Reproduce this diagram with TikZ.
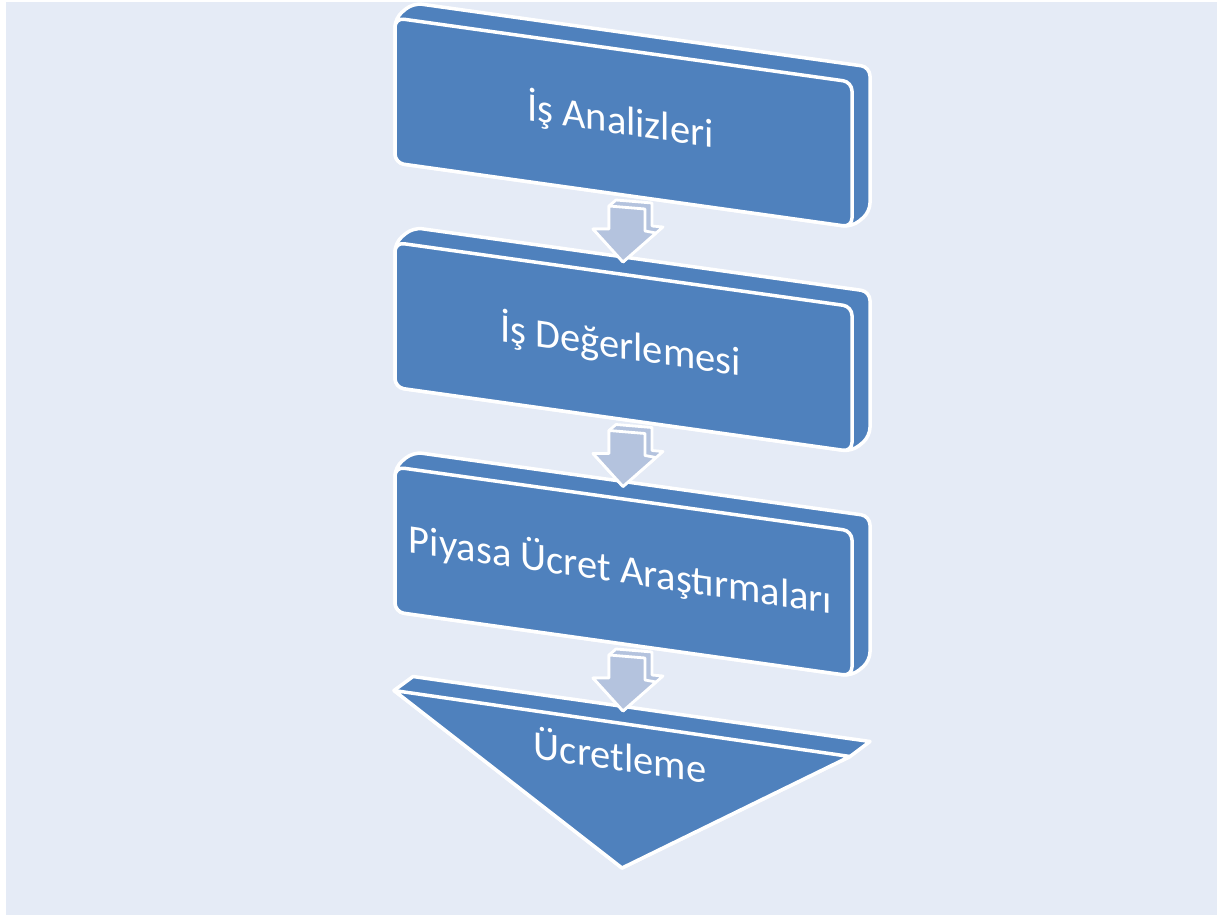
\documentclass[tikz,border=0pt]{standalone}
\usepackage{fontspec}
\setmainfont{Carlito}
\definecolor{slab}{HTML}{4F81BD}
\definecolor{chev}{HTML}{B4C3DE}
\definecolor{paper}{HTML}{E5EBF6}
\tikzset{
  slabface/.style={fill=slab, draw=white, line width=3.5pt, rounded corners=9pt, line join=round},
  sharpface/.style={fill=slab, draw=white, line width=3.5pt, line join=round},
  arrowface/.style={fill=chev, draw=white, line width=2.8pt, line join=round},
  lbl/.style={text=white, font=\fontsize{40.5}{48}\selectfont, yslant=-0.145, inner sep=0pt, anchor=base},
}
\begin{document}
\begin{tikzpicture}[x=1pt,y=-1pt]
\useasboundingbox (0,0) rectangle (1217,915);
\fill[white] (0,0) rectangle (1217,915);
\fill[paper] (6,2) rectangle (1217,915);

% three slanted slabs
\foreach \i/\t in {0/{İş Analizleri},1/{İş Değerlemesi},2/{Piyasa Ücret Araştırmaları}} {
  \pgfmathsetmacro\oy{224.5*\i}
  \coordinate (b\i-ftl) at (395,18+\oy);
  \coordinate (b\i-ftr) at (852,82+\oy);
  \coordinate (b\i-fbr) at (852,227+\oy);
  \coordinate (b\i-fbl) at (395,163+\oy);
  \coordinate (b\i-btl) at (413,3+\oy);
  \coordinate (b\i-btr) at (870,67+\oy);
  \coordinate (b\i-bbr) at (870,212+\oy);
  % top and side faces
  \path[slabface] (b\i-fbl) -- (b\i-ftl) -- (b\i-btl) -- (b\i-btr) -- (b\i-bbr) -- (b\i-fbr) -- cycle;
  % front face
  \path[slabface] (b\i-ftl) -- (b\i-ftr) -- (b\i-fbr) -- (b\i-fbl) -- cycle;
  \pgfmathsetmacro\ty{134+224.5*\i}
  \node[lbl] (lbl\i) at (620.5,\ty) {\t};
}

% funnel-shaped last step
\coordinate (t-fl) at (394,690.5);
\coordinate (t-fr) at (850,756.5);
\coordinate (t-bl) at (413,676.5);
\coordinate (t-br) at (870,741.5);
\coordinate (t-ap) at (622,868);
\path[sharpface] (t-fl) -- (t-bl) -- (t-br) -- (t-fr) -- (t-ap) -- cycle;
\path[sharpface] (t-fl) -- (t-fr) -- (t-ap) -- cycle;
\node[lbl] (lbl3) at (620,771) {Ücretleme};

% block arrows between the steps
\foreach \k in {0,1,2} {
  \pgfmathsetmacro\oy{224.5*\k}
  \begin{scope}[yshift=-\oy pt]
    \path[arrowface] (609,206) -- (616,200) -- (652,203) -- (652,226) -- (663,227)
      -- (623,262) -- (593,229) -- (609,229) -- cycle;
    \path[arrowface] (609,206) -- (645,209) -- (645,231) -- (656,233)
      -- (623,262) -- (593,229) -- (609,229) -- cycle;
  \end{scope}
}
\end{tikzpicture}
\end{document}
